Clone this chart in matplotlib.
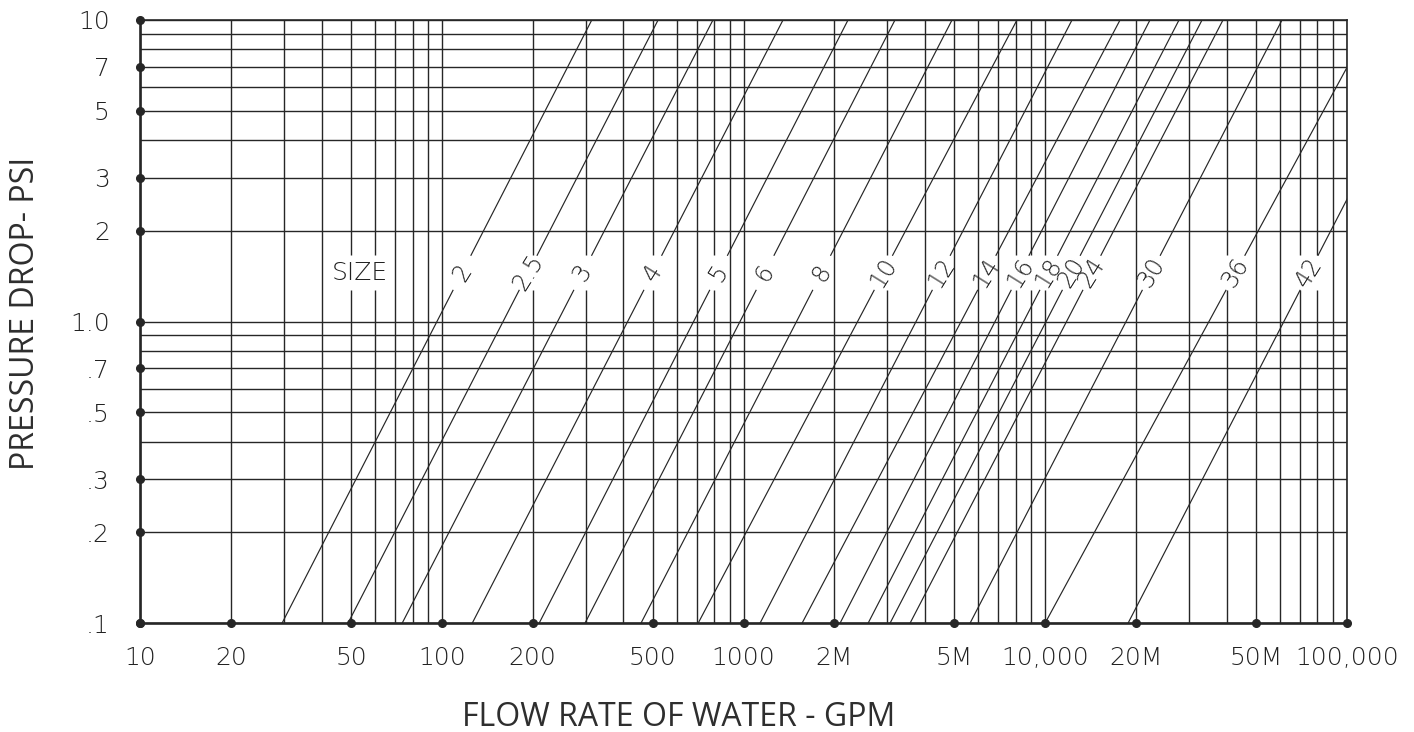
import numpy as np
import matplotlib
matplotlib.use("Agg")
import matplotlib.pyplot as plt

# pipe sizes and the flow (gpm) where each line meets 0.1 psi and 10 psi
sizes = ["2", "2.5", "3", "4", "5", "6", "8", "10", "12", "14", "16", "18",
         "20", "24", "30", "36", "42"]
flow_at_low = [29.5, 48.8, 73.8, 126, 210, 298, 457, 707, 1134, 1563, 2089,
               2588, 3060, 3565, 5636, 9993, 18830]
flow_at_high = [314, 521, 792, 1352, 2221, 3179, 4913, 8068, 12280, 17720,
                22270, 27800, 33140, 38890, 61030, 122000, 203300]
p_low, p_high = 0.1, 10.0

x_ticks = [10, 20, 50, 100, 200, 500, 1000, 2000, 5000, 10000, 20000, 50000, 100000]
x_labels = ["10", "20", "50", "100", "200", "500", "1000", "2M", "5M",
            "10,000", "20M", "50M", "100,000"]
y_ticks = [0.1, 0.2, 0.3, 0.5, 0.7, 1.0, 2, 3, 5, 7, 10]
y_labels = [".1", ".2", ".3", ".5", ".7", "1.0", "2", "3", "5", "7", "10"]

# vertical grid lines that are broken where the size labels sit
broken_x = [50, 60, 200, 300, 500, 800, 3000, 8000, 9000, 10000, 40000, 70000, 80000]
gap = (1.27, 1.66)  # psi band left clear for the labels
size_word_x = 53.5

ink = "#262626"
txt = "#222222"
num_font = dict(family=["DejaVu Sans"], fontweight="light", color=txt)
title_font = dict(family=["Open Sans", "DejaVu Sans"], color="#2e2e2e", fontsize=23)

fig = plt.figure(figsize=(14.14, 7.32), dpi=100)
ax = fig.add_axes([140.3 / 1414, 1 - 623.3 / 732, 1206.4 / 1414, 603.3 / 732])
ax.set_xscale("log")
ax.set_yscale("log")
ax.set_xlim(10, 100000)
ax.set_ylim(p_low, p_high)

# grid
grid_x = [m * 10 ** k for k in range(1, 5) for m in range(1, 10)] + [100000]
grid_y = [m * 10.0 ** k for k in range(-1, 1) for m in range(1, 10)] + [10.0]
ax.hlines(grid_y, 10, 100000, color=ink, lw=1.0, zorder=1)
for gx in grid_x:
    if gx in broken_x:
        ax.vlines([gx, gx], [p_low, gap[1]], [gap[0], p_high], color=ink, lw=1.0, zorder=1)
    else:
        ax.vlines(gx, p_low, p_high, color=ink, lw=1.0, zorder=1)


def flow_at(i, p):
    q0, q1 = flow_at_low[i], flow_at_high[i]
    t = np.log10(p / p_low) / np.log10(p_high / p_low)
    return q0 * (q1 / q0) ** t


p_mid = np.sqrt(gap[0] * gap[1])
for i, s in enumerate(sizes):
    for a, b in [(p_low, gap[0]), (gap[1], p_high)]:
        ax.plot([flow_at(i, a), flow_at(i, b)], [a, b], color=ink, lw=0.85, zorder=2)
    ax.text(flow_at(i, p_mid), p_mid, s, rotation=58, ha="center", va="center",
            rotation_mode="anchor", fontsize=17, **num_font)

ax.text(size_word_x, p_mid, "SIZE", ha="center", va="center", fontsize=18, **num_font)

# dots on the two scales
ax.plot([10] * len(y_ticks), y_ticks, "o", color=ink, ms=5.5, clip_on=False, zorder=5)
ax.plot(x_ticks, [p_low] * len(x_ticks), "o", color=ink, ms=5.5, clip_on=False, zorder=5)

ax.set_xticks(x_ticks, x_labels)
ax.set_yticks(y_ticks, y_labels)
ax.minorticks_off()
ax.tick_params(length=0)
ax.tick_params(axis="x", pad=16)
ax.tick_params(axis="y", pad=22)
for lab in ax.get_xticklabels() + ax.get_yticklabels():
    lab.set_fontsize(18)
    lab.set_fontfamily("DejaVu Sans")
    lab.set_fontweight("light")
    lab.set_color(txt)

for side in ["left", "bottom"]:
    ax.spines[side].set_linewidth(1.9)
for side in ["top", "right"]:
    ax.spines[side].set_linewidth(1.2)
for sp in ax.spines.values():
    sp.set_color(ink)
    sp.set_zorder(4)

fig.text(679 / 1414, 1 - 718 / 732, "FLOW RATE OF WATER - GPM", ha="center",
         va="center", **title_font)
fig.text(26 / 1414, 1 - 313 / 732, "PRESSURE DROP- PSI", ha="center", va="center",
         rotation=90, **title_font)

fig.savefig("out.png", dpi=100)
